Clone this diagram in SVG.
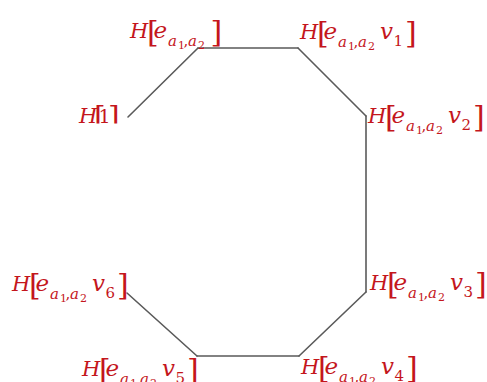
<svg xmlns="http://www.w3.org/2000/svg" width="487" height="382" viewBox="0 0 487 382">
<defs>
<style>
.bg{fill:#ffffff}
.edge{stroke:#5a5a5a;stroke-width:1.6;fill:none;stroke-linecap:round}
.lbl{font-family:"DejaVu Serif","Liberation Serif",serif;fill:#c4161c;font-size:21px}
.i{font-style:italic}
.m{font-size:23px}
.n{font-size:19px}
.br{font-size:30px}
.s{font-size:15px}
.ss{font-size:11px}
</style>
<clipPath id="clipH1"><rect x="-10" y="-30" width="60" height="30.5"/></clipPath>
</defs>
<rect class="bg" x="0" y="0" width="487" height="382"/>
<g id="edges">
<line class="edge" x1="128" y1="117" x2="198" y2="48"/>
<line class="edge" x1="198" y1="48" x2="298" y2="48"/>
<line class="edge" x1="298" y1="48" x2="366" y2="116"/>
<line class="edge" x1="366" y1="116" x2="366" y2="292"/>
<line class="edge" x1="366" y1="292" x2="299" y2="356"/>
<line class="edge" x1="299" y1="356" x2="197" y2="356"/>
<line class="edge" x1="197" y1="356" x2="127" y2="293"/>
</g>
<g id="n-h1" transform="translate(79,123)">
<text class="lbl" clip-path="url(#clipH1)"><tspan class="i" x="0" y="0">H</tspan><tspan class="br" x="15" y="4">[</tspan><tspan class="n" x="19.5" y="0">1</tspan><tspan class="br" x="29" y="4">]</tspan></text>
</g>
<g id="n-e" transform="translate(130,38)">
<text class="lbl"><tspan class="i" x="0" y="0">H</tspan><tspan class="br" x="17" y="4">[</tspan><tspan class="i m" x="23.5" y="0">e</tspan><tspan class="i s" x="38" y="7.5">a</tspan><tspan class="ss" x="48" y="11">1</tspan><tspan class="s" x="53.5" y="7.5">,</tspan><tspan class="i s" x="58" y="7.5">a</tspan><tspan class="ss" x="68" y="11">2</tspan><tspan class="br" x="80.5" y="4">]</tspan></text>
</g>
<g id="n-v1" transform="translate(300,39)">
<text class="lbl"><tspan class="i" x="0" y="0">H</tspan><tspan class="br" x="17" y="4">[</tspan><tspan class="i m" x="23.5" y="0">e</tspan><tspan class="i s" x="38" y="7.5">a</tspan><tspan class="ss" x="48" y="11">1</tspan><tspan class="s" x="53.5" y="7.5">,</tspan><tspan class="i s" x="58" y="7.5">a</tspan><tspan class="ss" x="68" y="11">2</tspan><tspan class="i m" x="80" y="0">v</tspan><tspan class="s" x="93.5" y="6.5">1</tspan><tspan class="br" x="105" y="4">]</tspan></text>
</g>
<g id="n-v2" transform="translate(368,123)">
<text class="lbl"><tspan class="i" x="0" y="0">H</tspan><tspan class="br" x="17" y="4">[</tspan><tspan class="i m" x="23.5" y="0">e</tspan><tspan class="i s" x="38" y="7.5">a</tspan><tspan class="ss" x="48" y="11">1</tspan><tspan class="s" x="53.5" y="7.5">,</tspan><tspan class="i s" x="58" y="7.5">a</tspan><tspan class="ss" x="68" y="11">2</tspan><tspan class="i m" x="80" y="0">v</tspan><tspan class="s" x="93.5" y="6.5">2</tspan><tspan class="br" x="105" y="4">]</tspan></text>
</g>
<g id="n-v3" transform="translate(370,290)">
<text class="lbl"><tspan class="i" x="0" y="0">H</tspan><tspan class="br" x="17" y="4">[</tspan><tspan class="i m" x="23.5" y="0">e</tspan><tspan class="i s" x="38" y="7.5">a</tspan><tspan class="ss" x="48" y="11">1</tspan><tspan class="s" x="53.5" y="7.5">,</tspan><tspan class="i s" x="58" y="7.5">a</tspan><tspan class="ss" x="68" y="11">2</tspan><tspan class="i m" x="80" y="0">v</tspan><tspan class="s" x="93.5" y="6.5">3</tspan><tspan class="br" x="105" y="4">]</tspan></text>
</g>
<g id="n-v4" transform="translate(301,374)">
<text class="lbl"><tspan class="i" x="0" y="0">H</tspan><tspan class="br" x="17" y="4">[</tspan><tspan class="i m" x="23.5" y="0">e</tspan><tspan class="i s" x="38" y="7.5">a</tspan><tspan class="ss" x="48" y="11">1</tspan><tspan class="s" x="53.5" y="7.5">,</tspan><tspan class="i s" x="58" y="7.5">a</tspan><tspan class="ss" x="68" y="11">2</tspan><tspan class="i m" x="80" y="0">v</tspan><tspan class="s" x="93.5" y="6.5">4</tspan><tspan class="br" x="105" y="4">]</tspan></text>
</g>
<g id="n-v5" transform="translate(82,376)">
<text class="lbl"><tspan class="i" x="0" y="0">H</tspan><tspan class="br" x="17" y="4">[</tspan><tspan class="i m" x="23.5" y="0">e</tspan><tspan class="i s" x="38" y="7.5">a</tspan><tspan class="ss" x="48" y="11">1</tspan><tspan class="s" x="53.5" y="7.5">,</tspan><tspan class="i s" x="58" y="7.5">a</tspan><tspan class="ss" x="68" y="11">2</tspan><tspan class="i m" x="80" y="0">v</tspan><tspan class="s" x="93.5" y="6.5">5</tspan><tspan class="br" x="105" y="4">]</tspan></text>
</g>
<g id="n-v6" transform="translate(12,291)">
<text class="lbl"><tspan class="i" x="0" y="0">H</tspan><tspan class="br" x="17" y="4">[</tspan><tspan class="i m" x="23.5" y="0">e</tspan><tspan class="i s" x="38" y="7.5">a</tspan><tspan class="ss" x="48" y="11">1</tspan><tspan class="s" x="53.5" y="7.5">,</tspan><tspan class="i s" x="58" y="7.5">a</tspan><tspan class="ss" x="68" y="11">2</tspan><tspan class="i m" x="80" y="0">v</tspan><tspan class="s" x="93.5" y="6.5">6</tspan><tspan class="br" x="105" y="4">]</tspan></text>
</g>
</svg>
